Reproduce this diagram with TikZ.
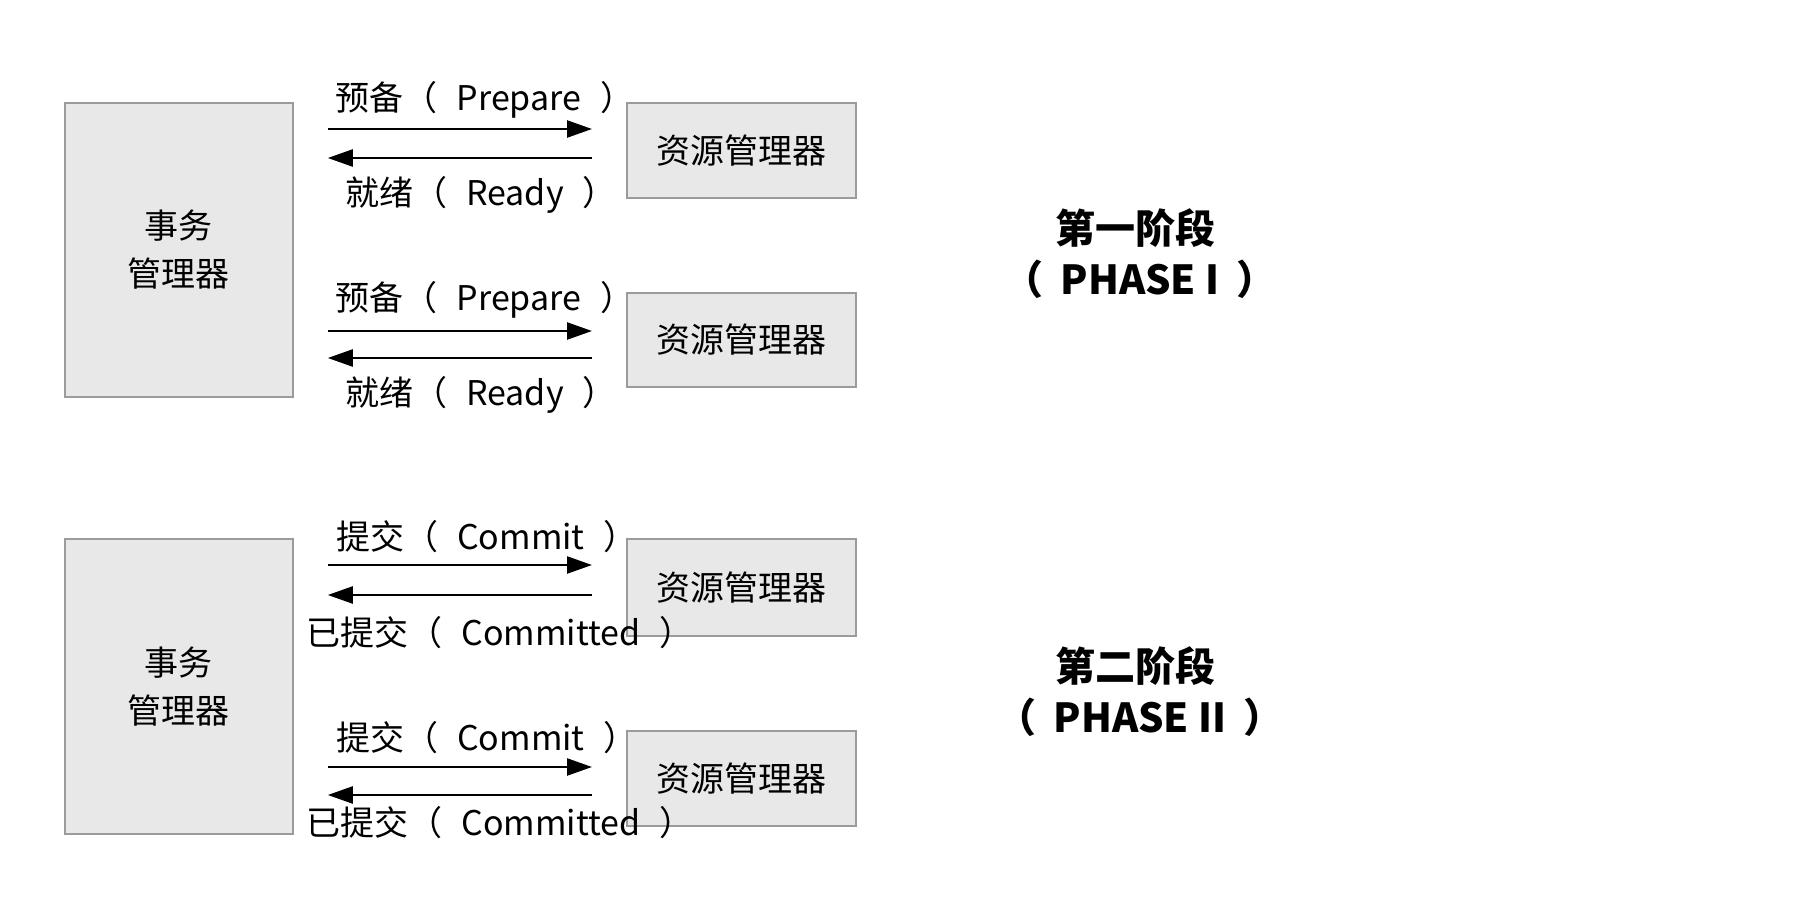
\documentclass[tikz,border=0pt]{standalone}
\usepackage{fontspec}
\setmainfont{Noto Sans CJK SC}
\usetikzlibrary{arrows.meta}
\definecolor{boxfill}{RGB}{232,232,232}
\definecolor{boxline}{RGB}{155,155,155}
\tikzset{
 box/.style={draw=boxline, fill=boxfill, line width=1.8pt, inner sep=0pt, anchor=north west, align=center, font=\fontsize{34}{48}\selectfont},
 txt/.style={font=\fontsize{34}{40}\selectfont, inner sep=0pt},
 arr/.style={line width=2.4pt, -{Triangle[length=25pt,width=17pt]}, shorten <=34pt, shorten >=34pt},
 phase/.style={font=\fontsize{40}{48}\selectfont\bfseries, inner sep=0pt}
}
\newcommand{\gap}{\hspace{0.56em}}
\newcommand{\pgap}{\hspace{0.42em}}
\begin{document}
\begin{tikzpicture}[x=1pt,y=-1pt]
\useasboundingbox (0,0) rectangle (1794,904);
% Phase 1
\node[box, minimum width=228pt, minimum height=294pt] (tm1) at (64,102) {事务\\管理器};
\node[box, minimum width=229pt, minimum height=95pt] (rm1) at (626,102) {资源管理器};
\node[box, minimum width=229pt, minimum height=94pt] (rm2) at (626,292) {资源管理器};
\coordinate (a1) at (0,129);
\coordinate (b1) at (0,158);
\coordinate (a2) at (0,331);
\coordinate (b2) at (0,358);
\draw[arr] (a1 -| tm1.east) -- (a1 -| rm1.west);
\draw[arr] (b1 -| rm1.west) -- (b1 -| tm1.east);
\draw[arr] (a2 -| tm1.east) -- (a2 -| rm2.west);
\draw[arr] (b2 -| rm2.west) -- (b2 -| tm1.east);
\node[txt] (p1) at (485,100) {预备（\gap Prepare\gap ）};
\node[txt] (r1) at (481,195) {就绪（\gap Ready\gap ）};
\node[txt] (p2) at (485,300) {预备（\gap Prepare\gap ）};
\node[txt] (r2) at (481,395) {就绪（\gap Ready\gap ）};
\node[phase] (ph1a) at (1135,228) {第一阶段};
\node[phase] (ph1b) at (1140,279) {（\pgap PHASE I\pgap ）};
% Phase 2
\node[box, minimum width=228pt, minimum height=295pt] (tm2) at (64,538) {事务\\管理器};
\node[box, minimum width=229pt, minimum height=97pt] (rm3) at (626,538) {资源管理器};
\node[box, minimum width=229pt, minimum height=95pt] (rm4) at (626,730) {资源管理器};
\coordinate (a3) at (0,565);
\coordinate (b3) at (0,595);
\coordinate (a4) at (0,767);
\coordinate (b4) at (0,795);
\draw[arr] (a3 -| tm2.east) -- (a3 -| rm3.west);
\draw[arr] (b3 -| rm3.west) -- (b3 -| tm2.east);
\draw[arr] (a4 -| tm2.east) -- (a4 -| rm4.west);
\draw[arr] (b4 -| rm4.west) -- (b4 -| tm2.east);
\node[txt] (c1) at (487,537) {提交（\gap Commit\gap ）};
\node[txt] (d1) at (500,633) {已提交（\gap Committed\gap ）};
\node[txt] (c2) at (487,738) {提交（\gap Commit\gap ）};
\node[txt] (d2) at (500,823) {已提交（\gap Committed\gap ）};
\node[phase] (ph2a) at (1135,666) {第二阶段};
\node[phase] (ph2b) at (1140,717) {（\pgap PHASE II\pgap ）};
\end{tikzpicture}
\end{document}
